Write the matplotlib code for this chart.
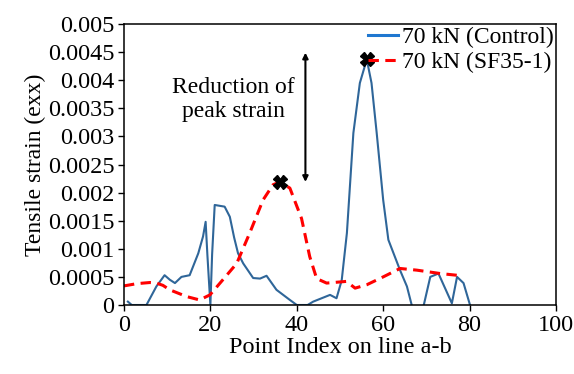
import numpy as np
import matplotlib.pyplot as plt
from matplotlib.lines import Line2D

plt.rcParams['font.family'] = ['Liberation Serif', 'DejaVu Serif']

# blue: 70 kN (Control)
ctrl_x = [0.9, 1.8, 5.2, 7.5, 9.4, 10.6, 11.8, 13.3, 15.2, 17.2, 18.3, 18.9, 19.3, 20.0,
          20.4, 21.0, 23.3, 24.5, 25.5, 26.4, 27.6, 29.9, 31.5, 33.0, 35.3, 38.4, 40.0,
          42.5, 43.8, 47.7, 49.2, 50.4, 51.6, 53.1, 54.6, 56.2, 57.3, 58.5, 60.0, 61.2,
          63.9, 65.5, 66.6, 68.0, 69.4, 70.9, 72.8, 75.9, 77.1, 78.6, 80.1]
ctrl_y = [0.00006, 0.0, 0.0, 0.00033, 0.00053, 0.00045, 0.00039, 0.0005, 0.00053, 0.00092,
          0.00122, 0.00148, 0.0009, 0.0, 0.0009, 0.00178, 0.00175, 0.00157, 0.0012, 0.00092,
          0.00074, 0.00048, 0.00047, 0.00052, 0.00027, 0.00009, 0.0, 0.0, 0.00006, 0.00018,
          0.00012, 0.00044, 0.00128, 0.00306, 0.00395, 0.00437, 0.00395, 0.00306, 0.00187,
          0.00116, 0.00062, 0.00033, 0.0, -0.0003, 0.0, 0.0005, 0.00056, 0.00003, 0.0005,
          0.00039, 0.0]

# red dashed: 70 kN (SF35-1)
sf_x = [0, 3, 6.0, 7.5, 9.0, 10.6, 14.5, 17.5, 19.9, 22.9, 26.1, 29.1, 32.2, 34.5, 36.1,
        38.4, 41.1, 43.0, 44.6, 46.9, 50.0, 51.5, 53.5, 56.2, 60.0, 63.9, 67.8, 73.2, 78.2]
sf_y = [0.00034, 0.00038, 0.0004, 0.00039, 0.00035, 0.00027, 0.00015, 0.00009, 0.00018,
        0.00045, 0.00074, 0.00128, 0.00187, 0.00214, 0.00219, 0.00208, 0.00154, 0.00086,
        0.00047, 0.00039, 0.00041, 0.00042, 0.0003, 0.00036, 0.0005, 0.00065, 0.00062,
        0.00056, 0.00052]

peak_x = [56.2, 36.1]
peak_y = [0.00437, 0.00219]

yticks = np.arange(0, 0.00501, 0.0005)
ylabels = ['0', '0.0005', '0.001', '0.0015', '0.002', '0.0025', '0.003', '0.0035',
           '0.004', '0.0045', '0.005']

fig = plt.figure(figsize=(5.74, 3.74), dpi=100)
ax = fig.add_axes([0.216, 0.1845, 0.7526, 0.7513])

blue = '#2F6699'
red = '#FF0000'
ax.plot(ctrl_x, ctrl_y, color=blue, lw=1.5)
ax.plot(sf_x, sf_y, color=red, lw=2.2, dashes=(3.4, 2.1))
ax.plot(peak_x, peak_y, 'X', color='black', ms=9.5, zorder=5)

ax.annotate('', xy=(42, 0.00219), xytext=(42, 0.00449),
            arrowprops=dict(arrowstyle='<|-|>', color='black', lw=1.5,
                            mutation_scale=8, shrinkA=0, shrinkB=0))
ax.text(25.3, 0.00365, 'Reduction of\npeak strain', ha='center', va='center',
        fontsize=17, linespacing=1.2)

ax.set_xlim(0, 100)
ax.set_ylim(0, 0.005)
ax.set_xticks(range(0, 101, 20))
ax.set_yticks(yticks)
ax.set_yticklabels(ylabels)
ax.tick_params(direction='out', length=4, width=1, labelsize=17.5, colors='black', pad=3)
for s in ax.spines.values():
    s.set_linewidth(1.1)

ax.set_xlabel('Point Index on line a-b', fontsize=17.5, labelpad=1)
ax.set_ylabel('Tensile strain (exx)', fontsize=17, labelpad=1)

handles = [Line2D([], [], color='#1F77D0', lw=2.2),
           Line2D([], [], color=red, lw=2.2, dashes=(3.4, 2.1))]
ax.legend(handles, ['70 kN (Control)', '70 kN (SF35-1)'], loc='upper right',
          frameon=False, fontsize=17, borderaxespad=0.05, borderpad=0.05,
          handlelength=1.3, handletextpad=0.15, labelspacing=0.15)

fig.savefig('out.png', dpi=100)
